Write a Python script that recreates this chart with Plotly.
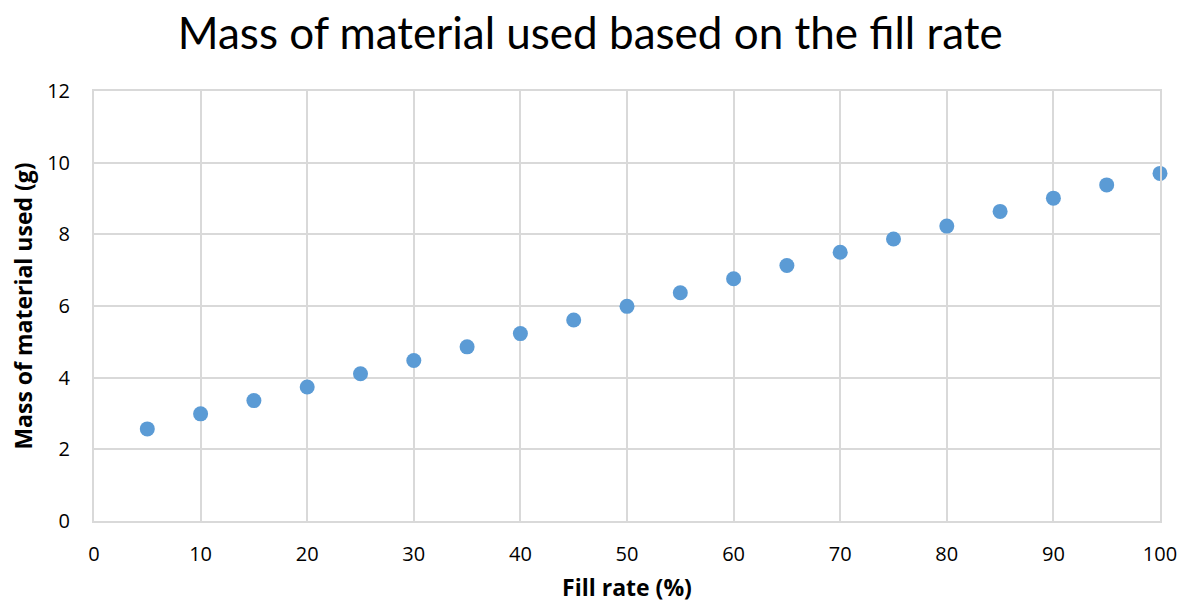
import plotly.graph_objects as go

# Fill rate (%) and the resulting mass of material used (g)
fill_rate = [5, 10, 15, 20, 25, 30, 35, 40, 45, 50, 55, 60, 65, 70, 75, 80, 85, 90, 95, 100]
mass_g = [2.57, 2.99, 3.36, 3.74, 4.11, 4.48, 4.86, 5.23, 5.61, 5.99,
          6.37, 6.76, 7.13, 7.50, 7.87, 8.23, 8.64, 9.01, 9.38, 9.70]

x_ticks = [0, 10, 20, 30, 40, 50, 60, 70, 80, 90, 100]
y_ticks = [0, 2, 4, 6, 8, 10, 12]

FONT = "Open Sans"
TITLE_FONT = "Lato"
GRID = "#d9d9d9"

fig = go.Figure(
    go.Scatter(
        x=fill_rate,
        y=mass_g,
        mode="markers",
        marker=dict(size=15, color="#5b9bd5"),
        showlegend=False,
        cliponaxis=False,
    )
)

fig.update_layout(
    width=1184,
    height=603,
    paper_bgcolor="white",
    plot_bgcolor="white",
    margin=dict(l=94, r=24, t=91, b=82, autoexpand=False),
    title=dict(
        text="Mass of material used based on the fill rate",
        x=0.4985,
        xanchor="center",
        y=0.945,
        yanchor="middle",
        font=dict(family=TITLE_FONT, size=44, color="#000000"),
    ),
    font=dict(family=FONT, color="#000000"),
)

fig.update_xaxes(
    range=[0, 100],
    tickvals=x_ticks,
    ticktext=[str(v) for v in x_ticks],
    tickfont=dict(size=20, color="#000000"),
    showgrid=True,
    gridcolor=GRID,
    gridwidth=2,
    zeroline=False,
    showline=True,
    linecolor=GRID,
    linewidth=2,
    mirror=True,
    ticks="",
    automargin=False,
    ticklabelstandoff=14,
    title=dict(text="<b>Fill rate (%)</b>", font=dict(size=23, color="#000000"), standoff=18),
)

fig.update_yaxes(
    range=[0, 12],
    tickvals=y_ticks,
    ticktext=[str(v) for v in y_ticks],
    tickfont=dict(size=20, color="#000000"),
    showgrid=True,
    gridcolor=GRID,
    gridwidth=2,
    zeroline=False,
    showline=True,
    linecolor=GRID,
    linewidth=2,
    mirror=True,
    ticks="",
    automargin=False,
    ticklabelstandoff=18,
    title=dict(text="<b>Mass of material used (g)</b>", font=dict(size=23, color="#000000"), standoff=8),
)

fig.write_html("out.html")
